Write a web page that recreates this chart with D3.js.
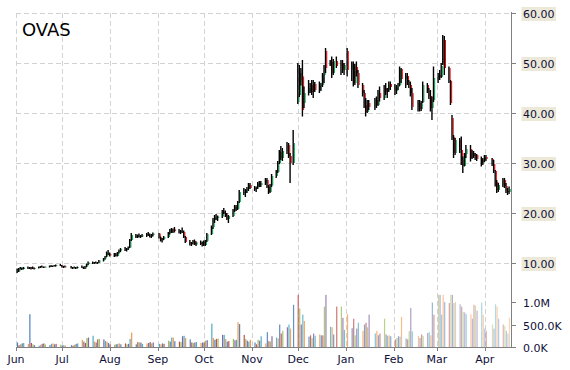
<!DOCTYPE html>
<html><head><meta charset="utf-8">
<script src="https://cdn.jsdelivr.net/npm/d3@7"></script>
<style>body{margin:0;background:#fff}svg{display:block}text{font-family:"DejaVu Sans",Verdana,sans-serif}</style>
</head><body>
<svg id="c" width="570" height="370"></svg>
<script>
const ticker = "OVAS";
const firstDay = "2014-06-02", lastDay = "2015-04-17";
const holidays = ["2014-07-04","2014-09-01","2014-11-27","2014-12-25","2015-01-01","2015-01-19","2015-02-16","2015-04-03"];
const priceTicks = [10,20,30,40,50,60];
const volumeTicks = [0,500,1000];
const volumeTickLabels = ["0.0K","500.0K","1.0M"];
// [open, high, low, close] per trading day
const ohlc = [
// Jun
[8.8,8.9,8.0,8.2],[8.3,9.0,8.2,8.9],[8.9,9.2,8.7,9.0],[9.0,9.1,8.6,8.8],[8.8,9.2,8.7,9.1],
[9.0,9.3,8.8,9.1],[9.1,9.2,8.8,8.9],[8.9,9.2,8.7,9.1],[9.1,9.3,8.8,8.9],[8.9,9.1,8.7,9.0],
[9.0,9.3,8.9,9.2],[9.2,9.4,9.0,9.3],[9.3,9.5,9.1,9.2],[9.2,9.3,9.0,9.2],[9.2,9.3,9.1,9.25],
[9.2,9.5,9.1,9.4],[9.4,9.6,9.2,9.3],[9.3,9.5,9.2,9.45],[9.45,9.6,9.3,9.4],[9.4,9.7,9.3,9.6],
[9.6,9.8,9.4,9.5],
// Jul
[9.5,9.6,9.1,9.2],[9.2,9.4,9.0,9.3],[9.3,9.5,9.1,9.2],
[9.2,9.4,8.9,9.0],[9.0,9.2,8.8,9.1],[9.1,9.3,8.9,9.0],[9.0,9.2,8.8,9.1],[9.1,9.3,8.9,9.2],
[9.2,9.5,9.0,9.1],[9.1,9.3,8.8,8.9],[8.9,9.4,8.8,9.3],[9.3,9.9,9.2,9.8],[9.8,10.3,9.6,10.1],
[10.1,10.3,9.8,10.0],[10.0,10.2,9.8,10.1],[10.1,10.3,9.9,10.0],[10.0,10.2,9.8,10.1],[10.1,10.6,10.0,10.5],
[10.5,11.0,10.3,10.9],[10.9,11.4,10.7,11.3],[11.3,12.3,11.2,12.0],[12.0,12.6,11.6,11.8],
// Aug
[11.8,12.1,11.3,11.5],
[11.5,12.0,11.2,11.7],[11.7,12.0,11.3,11.4],[11.4,12.2,11.3,12.1],[12.1,12.7,11.9,12.5],[12.5,13.0,12.2,12.8],
[12.8,13.2,12.4,12.6],[12.6,13.0,12.3,12.9],[12.9,13.3,12.6,13.1],[13.1,14.8,13.0,14.6],[14.6,16.0,14.4,15.6],
[15.6,15.8,15.0,15.2],[15.2,15.7,15.0,15.5],[15.5,15.9,15.1,15.3],[15.3,15.6,15.0,15.4],[15.4,15.8,15.2,15.5],
[15.5,16.0,15.2,15.8],[15.8,16.2,15.4,15.5],[15.5,15.9,15.1,15.3],[15.3,15.8,15.0,15.6],[15.6,16.1,15.3,15.9],
// Sep
[15.9,16.0,14.9,15.1],[15.1,15.3,14.3,14.5],[14.5,15.0,14.1,14.8],[14.8,15.4,14.6,15.2],
[15.2,16.2,15.0,16.0],[16.0,16.8,15.7,16.5],[16.5,17.0,16.0,16.3],[16.3,16.9,16.0,16.7],[16.7,17.2,16.1,16.4],
[16.4,16.8,15.9,16.1],[16.1,16.6,15.8,16.4],[16.4,17.1,16.0,16.2],[16.2,16.5,15.0,15.2],[15.2,15.4,14.0,14.2],
[14.2,14.6,13.5,13.8],[13.8,14.2,13.4,14.0],[14.0,14.6,13.7,14.4],[14.4,14.7,13.6,13.7],[13.7,14.3,13.4,14.1],
[14.1,14.5,13.6,13.8],[13.8,14.3,13.3,14.2],
// Oct
[14.2,14.5,13.4,13.6],[13.6,14.6,13.4,14.4],[14.4,16.0,14.2,15.8],
[15.8,17.5,15.6,17.2],[17.2,19.0,16.8,18.6],[18.6,19.6,18.0,19.2],[19.2,19.8,18.6,19.0],[19.0,19.5,18.4,19.3],
[19.3,20.6,19.0,20.3],[20.3,21.0,19.8,20.0],[20.0,20.5,19.2,19.4],[19.4,20.0,18.6,18.8],[18.8,19.6,18.0,19.4],
[19.4,20.8,19.2,20.5],[20.5,21.6,20.2,21.2],[21.2,21.6,20.4,20.8],[20.8,22.4,20.6,22.2],[22.2,24.6,22.0,24.2],
[24.2,25.0,23.6,24.0],[24.0,24.8,23.2,24.5],[24.5,25.2,24.0,24.8],[24.8,26.0,24.4,25.6],[25.6,26.0,24.8,25.0],
// Nov
[25.0,25.4,24.4,24.8],[24.8,25.3,24.2,25.1],[25.1,26.2,24.8,25.9],[25.9,26.4,25.2,25.6],[25.6,26.4,25.2,26.0],
[26.0,27.0,25.6,26.6],[26.6,27.0,25.0,25.2],[25.2,25.6,23.8,24.2],[24.2,25.8,24.0,25.5],[25.5,27.8,25.2,27.4],
[27.4,28.6,27.0,28.2],[28.2,30.4,28.0,30.0],[30.0,32.6,29.8,32.2],[32.2,33.4,30.6,31.0],[31.0,33.0,30.4,32.4],
[32.4,34.2,31.8,33.6],[33.6,34.0,31.0,31.4],[31.4,32.0,26.0,30.0],[30.0,36.6,29.6,34.0],
// Dec
[42.2,50.0,41.8,43.4],[43.6,49.6,43.2,48.0],[48.0,49.0,45.5,46.5],[47.3,50.6,39.3,40.6],[42.0,45.3,41.0,44.0],
[44.0,46.6,43.5,45.0],[45.0,46.0,44.0,45.6],[45.6,46.6,43.6,44.2],[44.2,46.6,43.0,45.8],[45.8,46.2,44.2,44.6],
[44.6,46.3,44.0,45.4],[45.4,46.0,44.4,45.6],[45.6,48.0,45.2,47.6],[47.6,49.6,46.0,49.2],[52.4,53.0,48.0,49.0],
[49.6,50.6,49.4,50.2],[50.2,51.3,47.0,48.0],[48.0,50.8,47.6,50.4],[50.4,51.3,49.0,49.4],
[49.4,50.6,47.6,50.0],[50.0,50.6,48.0,48.6],[48.6,50.0,47.6,49.6],
// Jan
[52.4,53.0,47.3,48.6],
[48.6,50.3,46.4,49.8],[49.8,50.3,45.3,46.0],[46.0,49.8,45.6,49.2],[49.2,50.3,47.3,48.0],[48.0,48.6,45.0,45.6],
[45.6,46.0,43.3,44.0],[44.0,44.6,41.0,41.6],[41.6,43.0,39.3,40.2],[40.2,42.6,40.0,42.0],[42.0,42.6,40.6,41.2],
[41.2,43.0,40.6,42.6],[42.6,43.3,41.0,41.6],[41.6,44.6,41.4,44.0],[44.0,45.3,42.3,43.0],
[43.0,45.6,42.6,45.0],[45.0,46.0,43.6,44.2],[44.2,45.0,43.0,44.6],[44.6,46.3,44.2,45.8],[45.8,46.3,44.6,45.2],
// Feb
[45.2,45.8,43.6,44.4],[44.4,45.6,43.8,45.2],[45.2,46.0,44.6,45.6],[45.6,49.3,45.4,48.8],[48.8,49.0,46.0,46.8],
[46.8,48.0,45.0,47.4],[47.4,48.0,45.6,46.2],[46.2,46.6,45.0,45.6],[45.6,46.3,43.3,44.0],[44.0,45.0,40.6,41.2],
[41.2,42.6,40.3,42.0],[42.0,42.6,40.3,40.8],[40.8,42.4,40.4,42.2],[42.2,46.3,42.0,45.6],
[45.6,46.0,44.0,44.6],[44.6,45.0,42.8,43.4],[43.4,44.6,40.3,41.0],[41.0,43.3,38.6,42.6],[42.6,49.3,42.2,47.0],
// Mar
[46.6,48.0,46.0,47.6],[47.6,48.6,46.6,47.2],[47.2,50.0,47.0,49.4],[50.0,55.6,49.6,54.6],[54.6,55.4,47.6,49.0],
[49.0,49.3,46.0,46.6],[46.4,46.6,41.6,42.0],[39.0,39.6,34.6,35.2],[35.2,35.6,31.0,32.0],[32.0,35.0,31.6,34.6],
[34.6,35.0,32.0,32.6],[32.6,35.3,29.6,30.6],[30.6,31.3,28.0,29.4],[29.4,32.0,29.3,31.8],[31.8,33.6,31.0,32.8],
[32.8,33.6,30.3,31.0],[31.0,32.6,30.8,32.0],[32.0,32.4,31.0,31.4],[31.4,32.0,30.6,31.6],[31.6,31.8,30.4,30.8],
[30.8,31.3,29.3,30.0],[30.0,31.0,29.6,30.6],
// Apr
[30.6,31.6,30.2,31.2],[31.2,31.6,30.4,30.8],
[30.8,31.0,29.4,29.8],[29.8,30.6,28.0,28.4],[28.4,28.6,25.3,26.2],[26.2,26.6,24.0,24.6],[24.6,26.0,24.2,25.6],
[25.6,27.0,25.2,26.6],[26.6,27.0,25.0,25.4],[25.4,26.0,24.0,24.4],[24.4,25.0,23.6,24.2],[24.2,25.3,23.8,24.8]
];
// volume in thousands of shares
const volume = [
100,40,60,80,90,70,730,90,60,40,30,50,70,80,60,40,70,80,60,70,50,
30,40,30,40,30,50,70,80,160,120,90,200,210,250,120,100,170,180,170,130,120,90,
60,50,60,70,80,60,80,60,70,180,320,60,110,100,100,70,80,90,110,80,100,
70,60,80,70,140,120,210,210,130,120,110,240,250,200,170,100,90,100,110,90,100,
100,140,150,520,200,160,180,190,270,270,180,120,130,180,150,160,550,510,270,180,140,120,160,
100,60,160,140,240,80,330,130,120,240,210,190,500,300,360,440,500,410,940,
1160,860,500,720,580,230,260,200,300,250,280,260,260,900,1160,450,440,280,900,900,650,380,
730,420,630,260,410,540,360,500,540,440,720,300,360,260,300,630,280,250,260,240,
170,200,240,230,670,190,170,350,870,350,240,200,280,250,310,330,260,990,720,
1160,1160,720,1160,1000,980,1160,1160,980,1000,950,900,780,770,730,730,630,940,920,810,990,720,
410,360,500,410,950,900,630,500,470,360,300,650
];
const volumeColors = ["#4F81BD","#C0504D","#9BBB59","#8064A2","#4BACC6","#F79646"];

const parse = d3.timeParse("%Y-%m-%d"), fmt = d3.timeFormat("%Y-%m-%d");
const dates = d3.timeDay.range(parse(firstDay), d3.timeDay.offset(parse(lastDay), 1))
  .filter(d => d.getDay() !== 0 && d.getDay() !== 6 && !holidays.includes(fmt(d)));
const n = Math.min(dates.length, ohlc.length, volume.length);
const data = d3.range(n).map(i => ({date: dates[i], o: ohlc[i][0], h: ohlc[i][1], l: ohlc[i][2], c: ohlc[i][3], v: volume[i], i}));

const svg = d3.select("#c");
const L = 16, R = 511, T = 13, B = 347;
const x = d3.scaleTime().domain([new Date(2014,5,1), new Date(2015,3,18)]).range([L, R]);
const y = d3.scaleLinear().domain([10, 60]).range([263, 13]);
const yv = d3.scaleLinear().domain([0, 1180]).range([B, 294]).clamp(true);
const months = d3.timeMonth.range(new Date(2014,5,1), new Date(2015,3,18));

// grid
const grid = svg.append("g").attr("stroke", "#d2d2d2").attr("stroke-dasharray", "5,3").attr("stroke-width", 1);
grid.selectAll("line.h").data(priceTicks).join("line")
  .attr("x1", L).attr("x2", R).attr("y1", d => Math.round(y(d)) + 0.5).attr("y2", d => Math.round(y(d)) + 0.5);
grid.selectAll("line.v").data(months).join("line")
  .attr("x1", d => Math.round(x(d)) + 0.5).attr("x2", d => Math.round(x(d)) + 0.5).attr("y1", T).attr("y2", B);

// volume bars
const nFadeStart = 100;
svg.append("g").selectAll("rect").data(data).join("rect")
  .attr("x", d => x(d.date) - 0.6).attr("width", 1.2)
  .attr("y", d => yv(d.v)).attr("height", d => B - yv(d.v))
  .attr("fill", d => volumeColors[d.i % volumeColors.length])
  .attr("opacity", d => d.i < nFadeStart ? 1 : 1 - 0.6 * (d.i - nFadeStart) / (n - nFadeStart));

// candles: colored open-close body beside a black high-low wick
const cg = svg.append("g");
cg.selectAll("rect.b").data(data).join("rect")
  .attr("x", d => x(d.date) + 0.3).attr("width", 1)
  .attr("y", d => y(Math.max(d.o, d.c))).attr("height", d => Math.max(0.8, Math.abs(y(d.o) - y(d.c))))
  .attr("fill", d => d.c >= d.o ? "#00b050" : "#ff0000");
cg.selectAll("line").data(data).join("line")
  .attr("x1", d => x(d.date) - 0.4).attr("x2", d => x(d.date) - 0.4)
  .attr("y1", d => y(d.h)).attr("y2", d => y(d.l))
  .attr("stroke", "#000").attr("stroke-width", 1.4);

// axes
const ax = svg.append("g").attr("stroke", "#808080").attr("stroke-width", 1);
ax.append("line").attr("x1", R + 0.5).attr("x2", R + 0.5).attr("y1", T - 1).attr("y2", B + 0.5);
ax.append("line").attr("x1", L).attr("x2", R + 0.5).attr("y1", B + 0.5).attr("y2", B + 0.5);
ax.selectAll("line.pt").data(priceTicks).join("line")
  .attr("x1", R).attr("x2", R + 5).attr("y1", d => Math.round(y(d)) + 0.5).attr("y2", d => Math.round(y(d)) + 0.5);
ax.selectAll("line.vt").data(volumeTicks).join("line")
  .attr("x1", R).attr("x2", R + 5).attr("y1", d => Math.round(yv(d)) + 0.5).attr("y2", d => Math.round(yv(d)) + 0.5);
ax.selectAll("line.mt").data(months).join("line")
  .attr("x1", d => Math.round(x(d)) + 0.5).attr("x2", d => Math.round(x(d)) + 0.5).attr("y1", B).attr("y2", B + 4);

const labColor = "#10103a";
const pl = svg.append("g");
priceTicks.forEach(t => {
  const g = pl.append("g");
  const tx = g.append("text").attr("x", 523).attr("y", Math.round(y(t)) + 4.5).attr("font-size", 11).attr("fill", labColor).text(d3.format(".2f")(t));
  const bb = tx.node().getBBox();
  g.insert("rect", "text").attr("x", bb.x - 1.5).attr("y", bb.y - 0.5).attr("width", bb.width + 3).attr("height", bb.height + 1).attr("fill", "#ECE9D8");
});
svg.append("g").selectAll("text").data(volumeTicks).join("text")
  .attr("x", 523).attr("y", d => Math.round(yv(d)) + 4.5).attr("font-size", 11).attr("fill", labColor)
  .text((d, i) => volumeTickLabels[i]);
svg.append("g").selectAll("text").data(months).join("text")
  .attr("x", d => x(d)).attr("y", 363).attr("text-anchor", "middle").attr("font-size", 11).attr("fill", labColor)
  .text(d3.timeFormat("%b"));

svg.append("text").attr("x", 22).attr("y", 36).attr("font-size", 18).attr("fill", "#000").text(ticker);
</script>
</body></html>
